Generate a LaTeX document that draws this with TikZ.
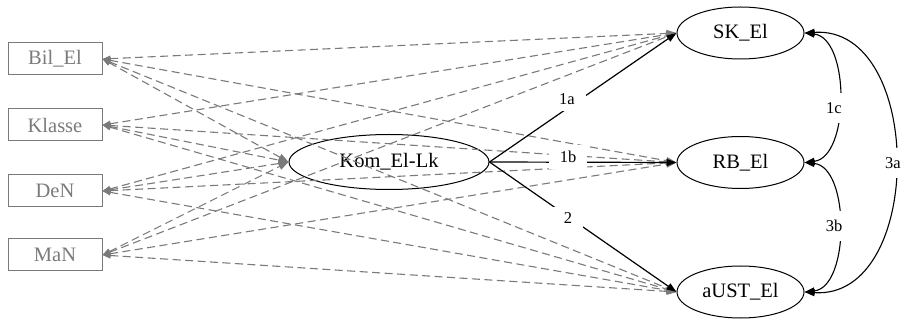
\documentclass[tikz,border=0pt]{standalone}
\usepackage{fontspec}
\setmainfont{Liberation Serif}
\usetikzlibrary{arrows.meta,shapes.geometric}
\definecolor{covgray}{RGB}{122,122,122}

\begin{document}
\begin{tikzpicture}[x=1pt,y=-1pt,
  obs/.style={draw=covgray, text=covgray, line width=1pt, minimum width=94pt,
    minimum height=32pt, inner sep=0pt, font=\fontsize{20.5}{22}\selectfont},
  lat/.style={ellipse, draw, line width=1pt, inner sep=0pt,
    font=\fontsize{20.5}{22}\selectfont},
  ctrl/.style={draw=covgray, line width=1.1pt, dash pattern=on 8pt off 4.5pt,
    {Triangle[length=8pt,width=6pt]}-{Triangle[length=10pt,width=7pt]}},
  effect/.style={draw=black, line width=1.2pt, -{Triangle[length=10pt,width=7pt]}},
  resid/.style={draw=black, line width=1.1pt,
    {Triangle[length=10pt,width=7pt]}-{Triangle[length=10pt,width=7pt]}},
  lbl/.style={fill=white, inner xsep=11pt, inner ysep=6pt,
    font=\fontsize{16.5}{18}\selectfont}]
\useasboundingbox (0,0) rectangle (907,320);

% covariates
\node[obs] (bil) at (55,59) {Bil\_El};
\node[obs] (kla) at (55,125) {Klasse};
\node[obs] (den) at (55,191) {DeN};
\node[obs] (man) at (55,255) {MaN};

% mediator and outcomes
\node[lat, minimum width=200pt, minimum height=55pt] (kom) at (389,162) {Kom\_El-Lk};
\node[lat, minimum width=127pt, minimum height=52pt] (sk) at (740.5,33) {SK\_El};
\node[lat, minimum width=127pt, minimum height=52pt] (rb) at (740.5,162.5) {RB\_El};
\node[lat, minimum width=127pt, minimum height=52pt] (aust) at (740.5,292) {aUST\_El};

% control paths
\foreach \b in {bil,kla,den,man}
  \foreach \t in {kom,sk,rb,aust}
    \draw[ctrl] (\b.east) -- (\t.west);

% structural paths
\draw[effect] (kom.east) -- (sk.west);
\draw[effect] (kom.east) -- (rb.west);
\draw[effect] (kom.east) -- (aust.west);

% residual covariances
\draw[resid] (sk.east) .. controls (850,38) and (850,157) .. (rb.east);
\draw[resid] (rb.east) .. controls (850,167) and (850,287) .. (aust.east);
\draw[resid] (sk.east) .. controls (925,25) and (925,300) .. (aust.east);

% path labels
\node[lbl] (l1a) at (567,99) {1a};
\node[lbl] (l1b) at (568,157) {1b};
\node[lbl] (l2) at (568,218) {2};
\node[lbl, inner xsep=3pt, inner ysep=9pt] (l1c) at (834,108) {1c};
\node[lbl, inner xsep=3pt, inner ysep=9pt] (l3b) at (834,226) {3b};
\node[lbl, inner xsep=3pt, inner ysep=9pt] (l3a) at (893,163) {3a};
\end{tikzpicture}
\end{document}
